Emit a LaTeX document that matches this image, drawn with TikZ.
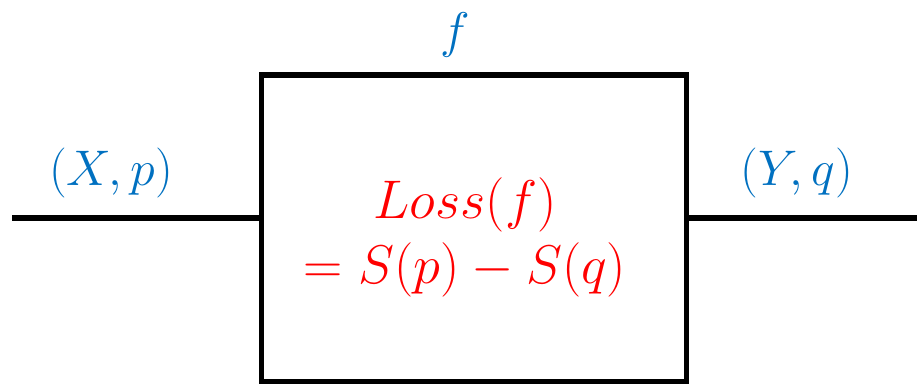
\RequirePackage{fix-cm}
\documentclass[tikz,border=0pt]{standalone}
\definecolor{lossBlue}{HTML}{0070C0}
\definecolor{lossRed}{HTML}{FF0000}
\tikzset{
  loss wire/.style={draw=black, line width=2.9pt},
  loss block/.style={draw=black, line width=2.9pt, minimum width=8.5cm, minimum height=6.14cm, inner sep=0pt},
  loss label/.style={text=lossBlue, font=\fontsize{28.5}{34}\selectfont, inner sep=0pt},
  loss formula/.style={text=lossRed, font=\fontsize{31}{37}\selectfont, align=center, inner sep=0pt},
}
\begin{document}
\begin{tikzpicture}[x=0.02cm,y=-0.02cm]
  \useasboundingbox (0,0) rectangle (917,384);
  \node[loss block] (f) at (474,228.5) {};
  \coordinate (in) at (12,218);
  \coordinate (out) at (917,218);
  \draw[loss wire] (in) -- (f.west |- in);
  \draw[loss wire] (f.east |- out) -- (out);
  \node[loss label] (fname) at (455,35) {$f$};
  \node[loss label] (xp) at (111,173) {$(X,p)$};
  \node[loss label] (yq) at (797,173) {$(Y,q)$};
  \node[loss formula] (loss) at (465,237) {$Loss(f)$\\$=S(p)-S(q)$};
\end{tikzpicture}
\end{document}
